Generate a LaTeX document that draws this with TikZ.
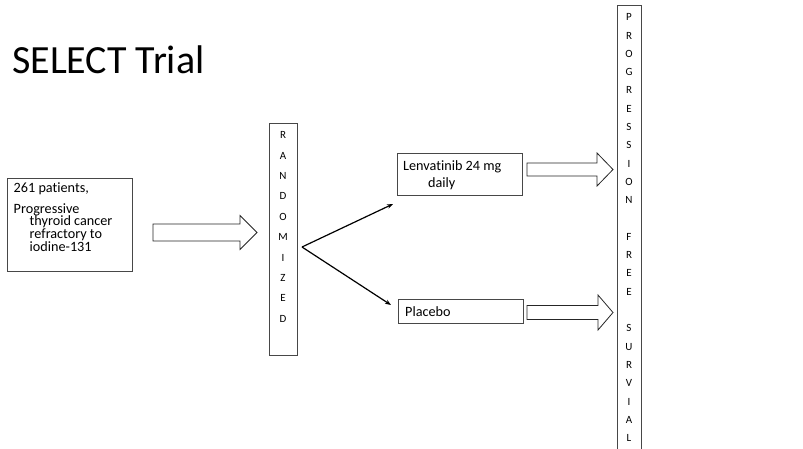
\documentclass[tikz,border=0pt]{standalone}
\usepackage{fontspec}
\setmainfont{Carlito}[RawFeature={-liga}]
\usetikzlibrary{arrows.meta}
\tikzset{
  framebox/.style={draw=black!72, line width=0.8pt, inner sep=0pt},
  bodytext/.style={font=\fontsize{14.2}{12.7}\selectfont, inner sep=0pt, align=left},
  lettercol/.style={font=\fontsize{11}{#1}\selectfont, inner sep=0pt, align=center},
  hollow/.style={draw=black!85, line width=0.8pt, fill=white, line join=miter},
  link/.style={draw=black, line width=1.2pt, -{Stealth[length=6pt,width=4.5pt]}}
}
% hollow block arrow: tail x, head-start x, tip x, centre y, half shaft, half head
\newcommand\hollowarrow[6]{%
  \draw[hollow] (#1,#4-#5) -- (#2,#4-#5) -- (#2,#4-#6) -- (#3,#4)
    -- (#2,#4+#6) -- (#2,#4+#5) -- (#1,#4+#5) -- cycle;}
\begin{document}
\begin{tikzpicture}[x=1pt, y=-1pt]
\useasboundingbox (0,0) rectangle (803,448);

% title
\node[anchor=base west, inner sep=0pt, font=\fontsize{40}{44}\selectfont] (title) at (12,73) {SELECT Trial};

% study population
\node[framebox, anchor=north west, minimum width=125pt, minimum height=93pt] (pop) at (7,178) {};
\node[bodytext, anchor=north west] (poptxt) at (13.5,182.5)
  {261 patients,\\[8pt]Progressive\\\hspace*{16pt}thyroid cancer\\\hspace*{16pt}refractory to\\\hspace*{16pt}iodine-131};

\hollowarrow{153}{240}{257}{232.5}{8.5}{17}

% randomization column
\node[framebox, anchor=north, minimum width=28pt, minimum height=232pt] (rnd) at (283,123) {};
\node[lettercol=20.4, anchor=north] (rndtxt) at (283,131.5)
  {R\\A\\N\\D\\O\\M\\I\\Z\\E\\D};

\coordinate (fork) at (302,247);
\coordinate (armA) at (393,204);
\coordinate (armB) at (391,305);
\draw[link] (fork) -- (armA);
\draw[link] (fork) -- (armB);

% treatment arms
\node[framebox, anchor=north west, minimum width=125pt, minimum height=42pt] (lenva) at (397,153) {};
\node[bodytext, anchor=base west] (lenvatxt) at (403,170) {Lenvatinib 24 mg};
\node[bodytext, anchor=base west] (dailytxt) at (428,187) {daily};

\node[framebox, anchor=north west, minimum width=125pt, minimum height=24pt] (plac) at (398,299) {};
\node[bodytext, anchor=base west] (plactxt) at (405,316) {Placebo};

\hollowarrow{527}{597}{613}{169.5}{6.5}{16.5}
\hollowarrow{527}{598}{613}{312.5}{7}{17.5}

% endpoint column
\node[framebox, anchor=north, minimum width=24pt, minimum height=450pt] (pfs) at (629,5) {};
\node[lettercol=18.3, anchor=north] (pfstxt) at (629,13.5)
  {P\\R\\O\\G\\R\\E\\S\\S\\I\\O\\N\\~\\F\\R\\E\\E\\~\\S\\U\\R\\V\\I\\A\\L};
\end{tikzpicture}
\end{document}
